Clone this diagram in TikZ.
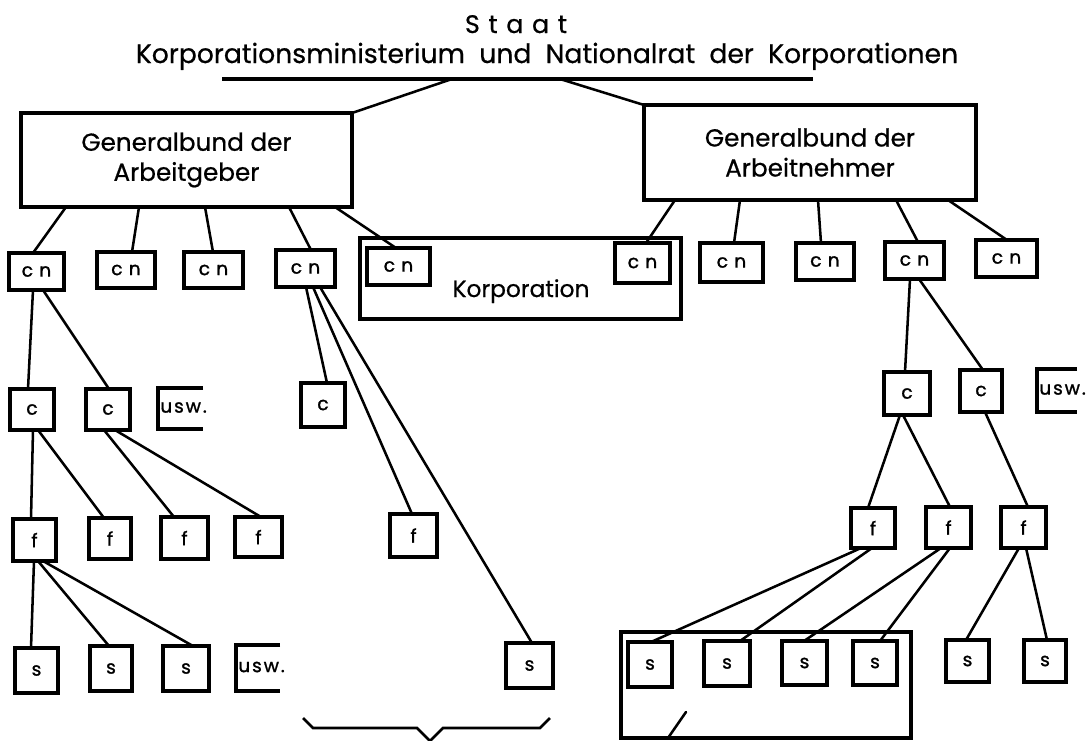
\documentclass[tikz,border=0pt]{standalone}
\usepackage{fontspec}
\setmainfont{Poppins}[FakeBold=0.6]
\newfontfamily\lsfont{Poppins}[LetterSpace=34,FakeBold=0.6]
\newfontfamily\smfont{Poppins}[LetterSpace=10,FakeBold=1.2]
\usetikzlibrary{calc}
\newcommand\bx[7]{\node[#1, minimum width={(#5-#3)*0.75pt}, minimum height={(#6-#4)*0.75pt}] (#2) at ({(#3+#5)/2},{(#4+#6)/2}) {#7};}
\newcommand\lk[4]{\draw[ln] ($(#1.south)+(#2,0)$) -- ($(#3.north)+(#4,0)$);}
\begin{document}
\begin{tikzpicture}[x=0.75pt,y=-0.75pt,
  bxs/.style={draw, line width=2.3pt, inner sep=0pt, outer sep=0pt},
  nob/.style={inner sep=0pt, outer sep=0pt},
  ln/.style={line width=1.9pt, line cap=round},
  sm/.style={font=\fontsize{14}{16}\smfont},
  big/.style={font=\fontsize{18.5}{22.5}\selectfont},
  usw/.style={font=\fontsize{14}{16}\smfont, inner sep=0pt, anchor=west}]
\fill[white] (0,0) rectangle (1089,740);
\useasboundingbox (0,0) rectangle (1089,740);
% titles
\node[anchor=base, font=\fontsize{19}{22}\lsfont] (staat) at (516,33) {Staat};
\node[anchor=base, font=\fontsize{20}{24}\selectfont] (minis) at (547,63) {Korporationsministerium\ \ und\ \ Nationalrat\ \ der\ \ Korporationen};
\coordinate (ulL) at (222,79);
\coordinate (ulR) at (813,79);
\coordinate (apL) at (452,79);
\coordinate (apR) at (560,79);
\draw[line width=2.3pt] (ulL) -- (ulR);
% general boxes
\bx{bxs, big, align=center}{gA}{21}{113}{352}{207}{Generalbund der\\Arbeitgeber}
\bx{bxs, big, align=center}{gB}{644}{105}{976}{200}{Generalbund der\\Arbeitnehmer}
\draw[ln] (apL) -- (gA.north east);
\draw[ln] (apR) -- (gB.north west);
% Korporation box
\bx{bxs}{korp}{360}{238}{681}{319}{}
\node[anchor=base, font=\fontsize{17.5}{20}\selectfont] (korpt) at (521,297) {Korporation};
% cn row
\bx{bxs, sm}{cnA1}{9}{253}{64}{290}{c\,\,n}
\bx{bxs, sm}{cnA2}{97}{252}{155}{288}{c\,\,n}
\bx{bxs, sm}{cnA3}{184}{252}{243}{288}{c\,\,n}
\bx{bxs, sm}{cnA4}{276}{250}{335}{287}{c\,\,n}
\bx{bxs, sm}{cnA5}{367}{248}{430}{285}{c\,\,n}
\bx{bxs, sm}{cnB1}{615}{243}{670}{283}{c\,\,n}
\bx{bxs, sm}{cnB2}{700}{243}{763}{282}{c\,\,n}
\bx{bxs, sm}{cnB3}{796}{243}{854}{280}{c\,\,n}
\bx{bxs, sm}{cnB4}{885}{242}{944}{279}{c\,\,n}
\bx{bxs, sm}{cnB5}{976}{240}{1037}{277}{c\,\,n}
% c row
\bx{bxs, sm}{cA1}{10}{389}{54}{430}{c}
\bx{bxs, sm}{cA2}{86}{389}{130}{430}{c}
\bx{nob}{uswA1}{158}{388}{203}{429}{}
\bx{bxs, sm}{cM}{301}{383}{345}{427}{c}
\bx{bxs, sm}{cB1}{884}{372}{930}{415}{c}
\bx{bxs, sm}{cB2}{960}{370}{1002}{412}{c}
\bx{nob}{uswB}{1037}{369}{1077}{412}{}
% f row
\bx{bxs, sm}{fA1}{13}{519}{56}{561}{f}
\bx{bxs, sm}{fA2}{89}{518}{131}{559}{f}
\bx{bxs, sm}{fA3}{161}{517}{208}{559}{f}
\bx{bxs, sm}{fA4}{235}{517}{282}{557}{f}
\bx{bxs, sm}{fM}{390}{514}{437}{557}{f}
\bx{bxs, sm}{fB1}{851}{508}{895}{548}{f}
\bx{bxs, sm}{fB2}{926}{507}{971}{548}{f}
\bx{bxs, sm}{fB3}{1001}{507}{1046}{548}{f}
% s row
\bx{bxs, sm}{sA1}{15}{648}{58}{693}{s}
\bx{bxs, sm}{sA2}{90}{646}{132}{691}{s}
\bx{bxs, sm}{sA3}{163}{646}{209}{691}{s}
\bx{nob}{uswA2}{236}{645}{280}{691}{}
\bx{bxs, sm}{sM}{506}{643}{553}{688}{s}
\bx{bxs}{sgrp}{621}{632}{911}{738}{}
\bx{bxs, sm}{sB1}{628}{642}{672}{687}{s}
\bx{bxs, sm}{sB2}{704}{641}{750}{686}{s}
\bx{bxs, sm}{sB3}{782}{641}{827}{685}{s}
\bx{bxs, sm}{sB4}{853}{641}{897}{685}{s}
\bx{bxs, sm}{sB5}{946}{640}{989}{682}{s}
\bx{bxs, sm}{sB6}{1024}{640}{1066}{682}{s}
% usw brackets
\foreach \u in {uswA1,uswB,uswA2}{
  \draw[line width=2.3pt] (\u.north east) -- (\u.north west) -- (\u.south west) -- (\u.south east);
}
\node[usw] (uswA1t) at ($(uswA1.west)+(2,-1)$) {usw.};
\node[usw] (uswBt) at ($(uswB.west)+(2,-1)$) {usw.};
\node[usw] (uswA2t) at ($(uswA2.west)+(2,-1)$) {usw.};
% links from Generalbund der Arbeitgeber
\lk{gA}{-120.5}{cnA1}{-3.5}
\lk{gA}{-47.5}{cnA2}{6}
\lk{gA}{18.5}{cnA3}{-0.5}
\lk{gA}{102.5}{cnA4}{5.5}
\lk{gA}{148.5}{cnA5}{-2.5}
% links from Generalbund der Arbeitnehmer
\lk{gB}{-135}{cnB1}{3.5}
\lk{gB}{-70}{cnB2}{2.5}
\lk{gB}{8}{cnB3}{-4}
\lk{gB}{86}{cnB4}{3.5}
\lk{gB}{138}{cnB5}{0.5}
% left tree
\lk{cnA1}{-3.5}{cA1}{-4}
\lk{cnA1}{6.5}{cA2}{1}
\lk{cA1}{1}{fA1}{-3.5}
\lk{cA1}{6}{fA2}{-6}
\lk{cA2}{-4}{fA3}{-10.5}
\lk{cA2}{7}{fA4}{2.5}
\lk{fA1}{-0.5}{sA1}{-5.5}
\lk{fA1}{3.5}{sA2}{-2}
\lk{fA1}{8.5}{sA3}{7}
% middle
\lk{cnA4}{0.5}{cM}{4}
\lk{cnA4}{7.5}{fM}{-1.5}
\lk{cnA4}{14.5}{sM}{2.5}
% right tree
\lk{cnB4}{-4.5}{cB1}{-2}
\lk{cnB4}{4.5}{cB2}{2}
\lk{cB1}{-7}{fB1}{-5}
\lk{cB1}{-4}{fB2}{1.5}
\lk{cB2}{4}{fB3}{4.5}
\lk{fB1}{-12}{sB1}{1}
\lk{fB1}{-1}{sB2}{13}
\lk{fB2}{-7.5}{sB3}{-0.5}
\lk{fB2}{1.5}{sB4}{5}
\lk{fB3}{-4.5}{sB5}{-1.5}
\lk{fB3}{2.5}{sB6}{2}
% slash in s group
\coordinate (slA) at (686,712);
\coordinate (slB) at (668,738);
\draw[ln] (slA) -- (slB);
% brace
\coordinate (brL) at (303,718);
\coordinate (brR) at (550,718);
\coordinate (brM) at (430,741);
\draw[line width=1.9pt, line join=miter] (brL) -- (313,728) -- (417,728) -- (brM) -- (443,728) -- (540,728) -- (brR);
\end{tikzpicture}
\end{document}
